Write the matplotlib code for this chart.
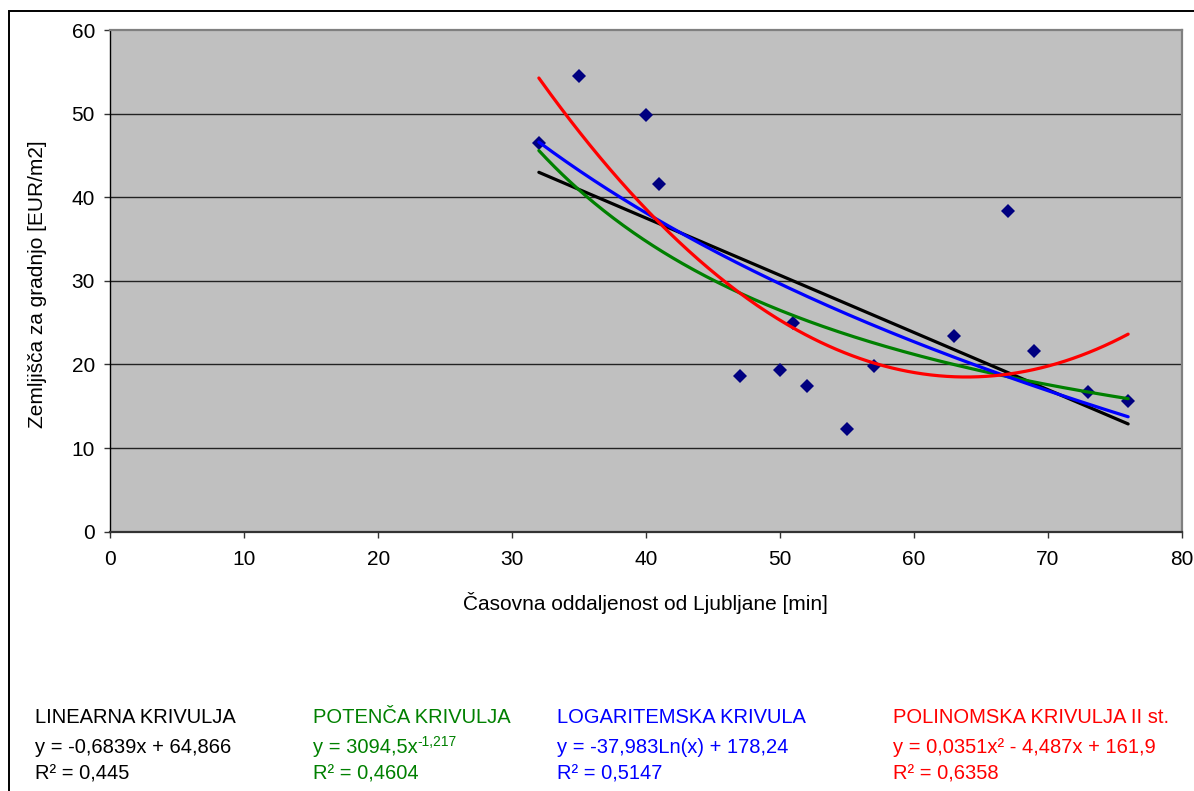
import numpy as np
import matplotlib
matplotlib.use("Agg")
import matplotlib.pyplot as plt
from matplotlib.patches import Rectangle

plt.rcParams['font.family'] = ['Liberation Sans', 'DejaVu Sans']

# ---- data ----
minutes = [32, 35, 40, 41, 47, 50, 51, 52, 55, 57, 63, 67, 69, 73, 76]
price = [46.5, 54.5, 49.8, 41.6, 18.6, 19.3, 25.0, 17.4, 12.3, 19.8, 23.4, 38.3, 21.6, 16.7, 15.6]

lin_coef = (-0.6839, 64.866)
pow_coef = (3094.5, -1.217)
log_coef = (-37.983, 178.24)
poly_coef = (0.0351, -4.487, 161.9)

x_ticks = [0, 10, 20, 30, 40, 50, 60, 70, 80]
y_ticks = [0, 10, 20, 30, 40, 50, 60]

x_label = "Časovna oddaljenost od Ljubljane [min]"
y_label = "Zemljišča za gradnjo [EUR/m2]"

legend_titles = ["LINEARNA KRIVULJA", "POTENČA KRIVULJA", "LOGARITEMSKA KRIVULA", "POLINOMSKA KRIVULJA II st."]
legend_eqs = ["y = -0,6839x + 64,866", "y = 3094,5x", "y = -37,983Ln(x) + 178,24", "y = 0,0351x² - 4,487x + 161,9"]
legend_sup = ["", "-1,217", "", ""]
legend_r2 = ["R² = 0,445", "R² = 0,4604", "R² = 0,5147", "R² = 0,6358"]
colors = ["#000000", "#008000", "#0000FF", "#FF0000"]

# ---- figure ----
W, H = 1194, 791
fig = plt.figure(figsize=(W / 100, H / 100), dpi=100)

def fx(px):
    return px / W

def fy(py):
    return 1 - py / H

left, right, top, bottom = 110.3, 1181.7, 30, 531.7
ax = fig.add_axes([fx(left), fy(bottom), fx(right) - fx(left), fy(top) - fy(bottom)])
ax.set_facecolor("#C0C0C0")
ax.set_xlim(0, 80)
ax.set_ylim(0, 60)
ax.set_xticks(x_ticks)
ax.set_yticks(y_ticks)
ax.tick_params(axis='both', direction='out', length=4, width=1, color='#333333', labelsize=15)
ax.tick_params(axis='x', pad=9)
ax.tick_params(axis='y', pad=7)
for yv in y_ticks[1:-1]:
    ax.axhline(yv, color='#222222', lw=1.0, zorder=1)
for s in ['top', 'right']:
    ax.spines[s].set_color('#808080')
    ax.spines[s].set_linewidth(1.6)
ax.spines['left'].set_color('#000000')
ax.spines['left'].set_linewidth(1.0)
ax.spines['bottom'].set_color('#333333')
ax.spines['bottom'].set_linewidth(1.6)

xx = np.linspace(min(minutes), max(minutes), 300)
y_lin = lin_coef[0] * xx + lin_coef[1]
y_pow = pow_coef[0] * xx ** pow_coef[1]
y_log = log_coef[0] * np.log(xx) + log_coef[1]
y_poly = poly_coef[0] * xx ** 2 + poly_coef[1] * xx + poly_coef[2]

ax.plot(minutes, price, linestyle='none', marker='D', ms=7.5, color='#000080', mec='#000080', mew=0, zorder=3)
ax.plot(xx, y_lin, color=colors[0], lw=2.3, zorder=4, solid_capstyle='round')
ax.plot(xx, y_pow, color=colors[1], lw=2.3, zorder=4, solid_capstyle='round')
ax.plot(xx, y_log, color=colors[2], lw=2.3, zorder=4, solid_capstyle='round')
ax.plot(xx, y_poly, color=colors[3], lw=2.3, zorder=4, solid_capstyle='round')

fig.text(fx(645), fy(603), x_label, ha='center', va='center', fontsize=15)
fig.text(fx(38), fy(284), y_label, ha='center', va='center', fontsize=15, rotation=90)

# outer border
fig.patches.append(Rectangle((fx(9), fy(H + 20)), 2, fy(11) - fy(H + 20), transform=fig.transFigure,
                             fill=False, edgecolor='black', lw=1.4))

# legend-like text block
col_x = [35, 313, 557, 893]
row_y = [723, 753, 780]
fig.canvas.draw()
renderer = fig.canvas.get_renderer()
for i in range(4):
    fig.text(fx(col_x[i]), fy(row_y[0]), legend_titles[i], color=colors[i], fontsize=14.5, va='baseline')
    t = fig.text(fx(col_x[i]), fy(row_y[1]), legend_eqs[i], color=colors[i], fontsize=14.5, va='baseline')
    if legend_sup[i]:
        bb = t.get_window_extent(renderer=renderer)
        fig.text(bb.x1 / W, fy(row_y[1] - 7), legend_sup[i], color=colors[i], fontsize=10, va='baseline')
    fig.text(fx(col_x[i]), fy(row_y[2]), legend_r2[i], color=colors[i], fontsize=14.5, va='baseline')

fig.savefig("out.png", dpi=100)
